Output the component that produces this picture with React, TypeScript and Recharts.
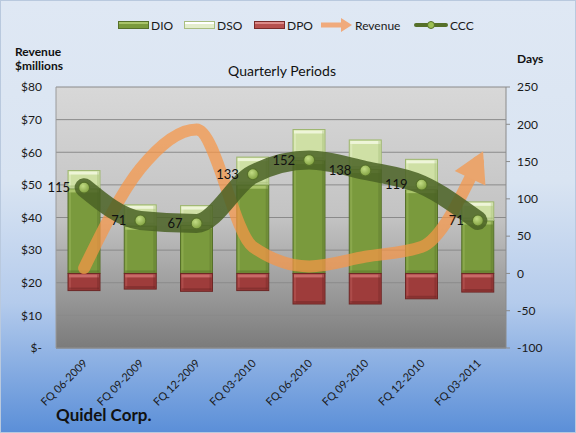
import React from 'react';
import { ComposedChart, Bar, Line, XAxis, YAxis, CartesianGrid, LabelList } from 'recharts';

const quarters = ['FQ 06-2009', 'FQ 09-2009', 'FQ 12-2009', 'FQ 03-2010', 'FQ 06-2010', 'FQ 09-2010', 'FQ 12-2010', 'FQ 03-2011'];
const dio = [114, 64, 65, 119, 152, 140, 113, 71];
const dso = [24, 28, 26, 37, 41, 39, 40, 25];
const dpo = [-23, -21, -24, -23, -41, -41, -34, -25];
const ccc = [115, 71, 67, 133, 152, 138, 119, 71];
const revenue = [24.5, 55, 67, 31, 25, 28, 31, 57];
const revenueTicks = [0, 10, 20, 30, 40, 50, 60, 70, 80];
const dayTicks = [-100, -50, 0, 50, 100, 150, 200, 250];

const rows = quarters.map((q, i) => ({
  q, dio: dio[i], dso: dso[i], dpo: dpo[i], ccc: ccc[i], revenue: revenue[i],
}));

const FONT = 'Lato, "Open Sans", sans-serif';

/* ── bevelled bar, Excel style ─────────────────────────────────────── */
function bevel(base: string, light: string, dark: string) {
  return (p: any) => {
    const h = Math.abs(p.height ?? 0);
    if (!h || !p.width) return <g />;
    const top = Math.min(p.y, p.y + p.height);
    const { x, width } = p;
    return (
      <g>
        <rect x={x} y={top} width={width} height={h} fill={base} stroke={dark} strokeWidth={1} />
        <rect x={x + 1} y={top + 1} width={width - 2} height={Math.min(3, h - 2)} fill={light} />
        <rect x={x + 1} y={top + 1} width={2} height={h - 2} fill={light} opacity={0.35} />
        <rect x={x + width - 3} y={top + 1} width={2} height={h - 2} fill={dark} opacity={0.35} />
        <rect x={x + 1} y={top + h - 3} width={width - 2} height={2} fill={dark} opacity={0.5} />
      </g>
    );
  };
}

const dioShape = bevel('#7a9a3d', '#a9c46a', '#56702a');
const dsoShape = bevel('#cfe0a5', '#eef5d8', '#9fb772');
const dpoShape = bevel('#9e3c3b', '#c86a68', '#6d2625');

/* ── arrowhead on the last revenue point ──────────────────────────── */
// opaque fill = the translucent orange as it looks over the grey plot area
const revenueDot = (p: any) => {
  const last = revenue.length - 1;
  if (p.index !== last) return <g key={`r-${p.index}`} />;
  let ux = Math.cos((62 * Math.PI) / 180);
  let uy = -Math.sin((62 * Math.PI) / 180);
  const pts = p.points;
  if (pts && pts.length > 2) {
    const a = pts[last - 2], b = pts[last - 1], c = pts[last];
    const s0 = (b.y - a.y) / (b.x - a.x);
    const s1 = (c.y - b.y) / (c.x - b.x);
    const pm = (s0 + s1) / 2;
    const t = (Math.sign(s0) + Math.sign(s1)) * Math.min(Math.abs(s0), Math.abs(s1), 0.5 * Math.abs(pm));
    const te = (3 * s1 - t) / 2;
    const len = Math.hypot(1, te);
    ux = 1 / len;
    uy = te / len;
  }
  const tx = p.cx + ux * 12, ty = p.cy + uy * 12;
  const bx = tx - ux * 30, by = ty - uy * 30;
  const nx = -uy, ny = ux;
  return (
    <polygon
      key="r-arrow"
      points={`${tx},${ty} ${bx + nx * 17},${by + ny * 17} ${bx - nx * 17},${by - ny * 17}`}
      fill="#eaa56d"
    />
  );
};

const cccDot = (p: any) => (
  <circle key={`c-${p.index}`} cx={p.cx} cy={p.cy} r={5.5} fill="url(#dotFill)" stroke="#56702a" strokeWidth={1.2} />
);

const XTick = (p: any) => {
  const ax = p.x + 4;
  const ay = p.y + 8;
  return (
    <text x={ax} y={ay} transform={`rotate(-45 ${ax} ${ay})`} textAnchor="end" fontSize={11} fill="#1a1a1a" fontFamily={FONT}>
      {p.payload.value}
    </text>
  );
};

/* ── legend ───────────────────────────────────────────────────────── */
function Swatch({ fill, edge, light }: { fill: string; edge: string; light: string }) {
  return (
    <svg width={31} height={8} style={{ display: 'block' }}>
      <rect x={0.5} y={0.5} width={30} height={7} fill={fill} stroke={edge} />
      <rect x={1} y={1} width={29} height={2} fill={light} />
    </svg>
  );
}

function ChartLegend() {
  const item = (left: number, icon: React.ReactNode, label: string) => (
    <div style={{ position: 'absolute', left, top: 17, height: 14, display: 'flex', alignItems: 'center', gap: 2 }}>
      {icon}
      <span style={{ fontSize: 12, color: '#1a1a1a' }}>{label}</span>
    </div>
  );
  return (
    <>
      {item(117, <Swatch fill="#7a9a3d" edge="#56702a" light="#a9c46a" />, 'DIO')}
      {item(183, <Swatch fill="#e3edcc" edge="#a9be80" light="#ffffff" />, 'DSO')}
      {item(253, <Swatch fill="#b6504e" edge="#7a2b2a" light="#dc8a88" />, 'DPO')}
      {item(320,
        <svg width={32} height={14} style={{ display: 'block' }}>
          <polygon points="0,4.5 20,4.5 20,0 31,7 20,14 20,9.5 0,9.5" fill="#f0aa7c" />
        </svg>, 'Revenue')}
      {item(413,
        <svg width={34} height={10} style={{ display: 'block' }}>
          <rect x={0} y={3} width={34} height={4} rx={2} fill="#56702a" />
          <circle cx={17} cy={5} r={3.5} fill="#9cbf52" stroke="#56702a" />
        </svg>, 'CCC')}
    </>
  );
}

export default function App() {
  return (
    <div
      style={{
        position: 'absolute', left: 0, top: 0, width: 576, height: 433, overflow: 'hidden',
        background: 'linear-gradient(180deg, #dfe8f4 0%, #d9e4f2 42%, #b4cbec 70%, #5b8fd8 100%)',
        fontFamily: FONT, boxSizing: 'border-box', border: '1px solid #b9c9de',
      }}
    >
      <ChartLegend />
      <div style={{ position: 'absolute', left: 14, top: 44, fontSize: 12, fontWeight: 700, lineHeight: '14px', color: '#111' }}>
        Revenue<br />$millions
      </div>
      <div style={{ position: 'absolute', left: 516, top: 50, fontSize: 12, fontWeight: 700, color: '#111' }}>Days</div>
      <div style={{ position: 'absolute', left: 0, width: 562, top: 61, textAlign: 'center', fontSize: 14, color: '#111' }}>
        Quarterly Periods
      </div>
      <div style={{ position: 'absolute', left: 55, top: 403, fontSize: 17, fontWeight: 700, color: '#111' }}>Quidel Corp.</div>

      <div style={{ position: 'absolute', left: -1, top: -1 }}>
        <ComposedChart
          width={576}
          height={433}
          data={rows}
          margin={{ top: 87, right: 0, bottom: 0, left: 0 }}
          stackOffset="sign"
          barSize={32}
        >
          <defs>
            <linearGradient id="plotBg" x1="0" y1="0" x2="0" y2="1">
              <stop offset="0" stopColor="#d8d8d8" />
              <stop offset="0.5" stopColor="#c3c3c3" />
              <stop offset="1" stopColor="#7b7b7b" />
            </linearGradient>
            <radialGradient id="dotFill" cx="0.4" cy="0.35" r="0.7">
              <stop offset="0" stopColor="#c2dc84" />
              <stop offset="1" stopColor="#7d9d3c" />
            </radialGradient>
          </defs>
          <CartesianGrid yAxisId="rev" vertical={false} fill="url(#plotBg)" stroke="#8a8a8a" />
          <XAxis
            dataKey="q"
            height={85}
            interval={0}
            tickLine={false}
            axisLine={{ stroke: '#8a8a8a' }}
            tick={<XTick />}
          />
          <YAxis
            yAxisId="rev"
            domain={[0, 80]}
            ticks={revenueTicks}
            width={56}
            tickLine={false}
            tickSize={6}
            tickMargin={8}
            axisLine={{ stroke: '#9a9a9a' }}
            tick={{ fontSize: 12, fill: '#1a1a1a', fontFamily: FONT }}
            tickFormatter={(v: number) => (v === 0 ? '$-' : `$${v}`)}
          />
          <YAxis
            yAxisId="days"
            orientation="right"
            domain={[-100, 250]}
            ticks={dayTicks}
            width={70}
            tickSize={4}
            tickMargin={7}
            tickLine={{ stroke: '#8a8a8a' }}
            axisLine={{ stroke: '#8a8a8a' }}
            tick={{ fontSize: 12, fill: '#1a1a1a', fontFamily: FONT, textAnchor: 'start' }}
          />
          <Bar yAxisId="days" dataKey="dio" stackId="days" shape={dioShape} isAnimationActive={false} />
          <Bar yAxisId="days" dataKey="dso" stackId="days" shape={dsoShape} isAnimationActive={false} />
          <Bar yAxisId="days" dataKey="dpo" stackId="days" shape={dpoShape} isAnimationActive={false} />
          <Line
            yAxisId="rev"
            dataKey="revenue"
            type="monotone"
            stroke="#f79646"
            strokeOpacity={0.72}
            strokeWidth={12}
            strokeLinecap="round"
            dot={revenueDot}
            activeDot={false}
            isAnimationActive={false}
          />
          <Line
            yAxisId="days"
            dataKey="ccc"
            type="monotone"
            stroke="#4a6124"
            strokeOpacity={0.85}
            strokeWidth={19}
            strokeLinecap="round"
            dot={cccDot}
            activeDot={false}
            isAnimationActive={false}
          >
            <LabelList dataKey="ccc" position="left" offset={14} fontSize={13} fill="#111" fontFamily={FONT} />
          </Line>
        </ComposedChart>
      </div>
    </div>
  );
}
